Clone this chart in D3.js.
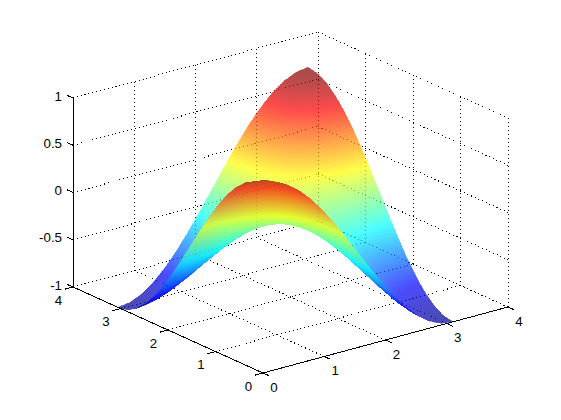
<!DOCTYPE html>
<html lang="en">
<head>
<meta charset="UTF-8">
<title>Surface</title>
<script src="https://d3js.org/d3.v7.min.js"></script>
<style>
  html, body { margin: 0; background: #fff; }
  svg { display: block; }
  text { font-family: "Liberation Sans", Arial, sans-serif; font-size: 13.3px; fill: #000; }
</style>
</head>
<body>
<svg width="561" height="420"></svg>
<script>
// tick labels
const xTicks = [0, 1, 2, 3, 4];
const yTicks = [0, 1, 2, 3, 4];
const zTicks = [-1, -0.5, 0, 0.5, 1];

// surface samples
const xSamples = [0, 0.194, 0.388, 0.581, 0.775, 0.969, 1.163, 1.356, 1.55, 1.744, 1.938, 2.131, 2.325, 2.519, 2.713, 2.906, 3.1];
const ySamples = [0, 0.191, 0.381, 0.572, 0.763, 0.953, 1.144, 1.334, 1.525, 1.716, 1.906, 2.097, 2.288, 2.478, 2.669, 2.859, 3.05];
const zRows = [
  [1, .981, .924, .831, .707, .556, .383, .195, 0, -.195, -.383, -.556, -.707, -.831, -.924, -.981, -1],
  [.981, .962, .906, .815, .694, .545, .376, .191, 0, -.191, -.376, -.545, -.694, -.815, -.906, -.962, -.981],
  [.924, .906, .854, .768, .653, .514, .354, .180, 0, -.180, -.354, -.514, -.653, -.768, -.854, -.906, -.924],
  [.831, .815, .768, .691, .588, .462, .318, .162, 0, -.162, -.318, -.462, -.588, -.691, -.768, -.815, -.831],
  [.707, .694, .653, .588, .5, .393, .271, .138, 0, -.138, -.271, -.393, -.5, -.588, -.653, -.694, -.707],
  [.556, .545, .514, .462, .393, .309, .213, .108, 0, -.108, -.213, -.309, -.393, -.462, -.514, -.545, -.556],
  [.383, .376, .354, .318, .271, .213, .147, .075, 0, -.075, -.147, -.213, -.271, -.318, -.354, -.376, -.383],
  [.195, .191, .180, .162, .138, .108, .075, .038, 0, -.038, -.075, -.108, -.138, -.162, -.180, -.191, -.195],
  [0, 0, 0, 0, 0, 0, 0, 0, 0, 0, 0, 0, 0, 0, 0, 0, 0],
  [-.195, -.191, -.180, -.162, -.138, -.108, -.075, -.038, 0, .038, .075, .108, .138, .162, .180, .191, .195],
  [-.383, -.376, -.354, -.318, -.271, -.213, -.147, -.075, 0, .075, .147, .213, .271, .318, .354, .376, .383],
  [-.556, -.545, -.514, -.462, -.393, -.309, -.213, -.108, 0, .108, .213, .309, .393, .462, .514, .545, .556],
  [-.707, -.694, -.653, -.588, -.5, -.393, -.271, -.138, 0, .138, .271, .393, .5, .588, .653, .694, .707],
  [-.831, -.815, -.768, -.691, -.588, -.462, -.318, -.162, 0, .162, .318, .462, .588, .691, .768, .815, .831],
  [-.924, -.906, -.854, -.768, -.653, -.514, -.354, -.180, 0, .180, .354, .514, .653, .768, .854, .906, .924],
  [-.981, -.962, -.906, -.815, -.694, -.545, -.376, -.191, 0, .191, .376, .545, .694, .815, .906, .962, .981],
  [-1, -.981, -.924, -.831, -.707, -.556, -.383, -.195, 0, .195, .383, .556, .707, .831, .924, .981, 1]
];

const svg = d3.select("svg");

// fixed 3d view: each data axis moves the point along its own screen direction
const origin = [263, 373];
const xToScreenX = d3.scaleLinear().domain([0, 4]).range([0, 245]);
const xToScreenY = d3.scaleLinear().domain([0, 4]).range([0, -66]);
const yToScreenX = d3.scaleLinear().domain([0, 4]).range([0, -190]);
const yToScreenY = d3.scaleLinear().domain([0, 4]).range([0, -86]);
const zToScreenY = d3.scaleLinear().domain([-1, 1]).range([0, -189]);

const project = (x, y, z) => [
  origin[0] + xToScreenX(x) + yToScreenX(y),
  origin[1] + xToScreenY(x) + yToScreenY(y) + zToScreenY(z)
];

const drawLine = (a, b, dotted) => {
  svg.append("line")
    .attr("x1", a[0]).attr("y1", a[1])
    .attr("x2", b[0]).attr("y2", b[1])
    .attr("stroke", "#000")
    .attr("stroke-width", 1)
    .attr("stroke-dasharray", dotted ? "1,3" : null)
    .attr("shape-rendering", "crispEdges");
};

// dotted grid on the floor and on the two back walls
xTicks.forEach(x => {
  if (x > 0) drawLine(project(x, 0, -1), project(x, 4, -1), true);
  drawLine(project(x, 4, -1), project(x, 4, 1), true);
});
yTicks.forEach(y => {
  if (y > 0) drawLine(project(0, y, -1), project(4, y, -1), true);
  drawLine(project(4, y, -1), project(4, y, 1), true);
});
zTicks.forEach(z => {
  drawLine(project(0, 4, z), project(4, 4, z), true);
  drawLine(project(4, 4, z), project(4, 0, z), true);
});

// jet colormap over the z range
const jet = d3.scaleLinear()
  .domain([-1, -0.75, -0.25, 0.25, 0.75, 1])
  .range(["rgb(0,0,143)", "rgb(0,0,255)", "rgb(0,255,255)", "rgb(255,255,0)", "rgb(255,0,0)", "rgb(128,0,0)"]);

// interpolated shading: every grid cell is cut into small flat pieces
const pieces = 6;
const backCells = [];
const frontCells = [];

for (let i = 0; i < ySamples.length - 1; i++) {
  for (let j = 0; j < xSamples.length - 1; j++) {
    const x0 = xSamples[j], x1 = xSamples[j + 1];
    const y0 = ySamples[i], y1 = ySamples[i + 1];
    const z00 = zRows[i][j], z01 = zRows[i][j + 1];
    const z10 = zRows[i + 1][j], z11 = zRows[i + 1][j + 1];
    const at = (u, v) => {
      const z = z00 * (1 - u) * (1 - v) + z01 * u * (1 - v) + z10 * (1 - u) * v + z11 * u * v;
      return { p: project(x0 + (x1 - x0) * u, y0 + (y1 - y0) * v, z), z };
    };
    for (let a = 0; a < pieces; a++) {
      for (let b = 0; b < pieces; b++) {
        const c = [
          at(b / pieces, a / pieces),
          at((b + 1) / pieces, a / pieces),
          at((b + 1) / pieces, (a + 1) / pieces),
          at(b / pieces, (a + 1) / pieces)
        ];
        const pts = c.map(d => d.p);
        const cell = { pts, z: d3.mean(c, d => d.z) };
        // the winding on screen tells which side of the fold a piece is on
        if (d3.polygonArea(pts) < 0) frontCells.push(cell); else backCells.push(cell);
      }
    }
  }
}

// each side of the fold is one flat layer, so the see-through is even
const drawSheet = cells => {
  svg.append("g")
    .attr("opacity", 0.7)
    .selectAll("polygon")
    .data(cells)
    .join("polygon")
    .attr("points", d => d.pts.map(p => p.join(",")).join(" "))
    .attr("fill", d => jet(d.z))
    .attr("stroke", d => jet(d.z))
    .attr("stroke-width", 0.5)
    .attr("shape-rendering", "crispEdges");
};
drawSheet(backCells);
drawSheet(frontCells);

// solid axis lines and tick marks
drawLine(project(0, 0, -1), project(4, 0, -1));
drawLine(project(0, 0, -1), project(0, 4, -1));
drawLine(project(0, 4, -1), project(0, 4, 1));

const tickLen = 0.13;
xTicks.forEach(x => drawLine(project(x, 0, -1), project(x, -tickLen, -1)));
yTicks.forEach(y => drawLine(project(0, y, -1), project(-tickLen, y, -1)));
zTicks.forEach(z => drawLine(project(0, 4, z), project(0, 4 + tickLen, z)));

// tick labels
xTicks.forEach(x => {
  const p = project(x, 0, -1);
  svg.append("text").attr("x", p[0] + 11).attr("y", p[1] + 18.5).attr("text-anchor", "middle").text(x);
});
yTicks.forEach(y => {
  const p = project(0, y, -1);
  svg.append("text").attr("x", p[0] - 14.5).attr("y", p[1] + 17.5).attr("text-anchor", "middle").text(y);
});
zTicks.forEach(z => {
  const p = project(0, 4, z);
  svg.append("text").attr("x", p[0] - 11).attr("y", p[1] + 2.5).attr("text-anchor", "end").text(z);
});
</script>
</body>
</html>
